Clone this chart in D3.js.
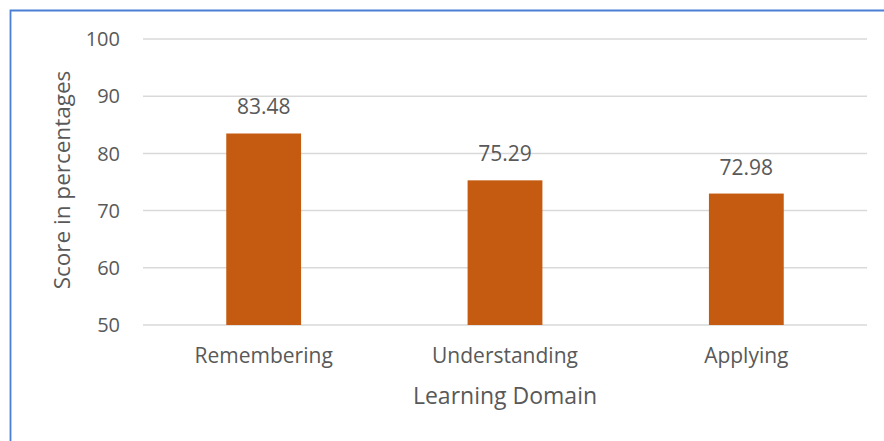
<!DOCTYPE html>
<html>
<head>
<meta charset="utf-8">
<script src="https://cdn.jsdelivr.net/npm/d3@7"></script>
<style>
  body { margin: 0; background: #fff; }
  text { font-family: "Open Sans", sans-serif; fill: #595959; }
</style>
</head>
<body>
<div id="chart"></div>
<script>
var categories = ['Remembering', 'Understanding', 'Applying'];
var scores = [83.48, 75.29, 72.98];
var yTicks = [50, 60, 70, 80, 90, 100];

var width = 884;
var height = 441;
var margin = { left: 143, right: 17, top: 39, bottom: 116 };

var svg = d3.select('#chart')
    .append('svg')
    .attr('width', width)
    .attr('height', height);

// frame
svg.append('path')
    .attr('d', 'M10.5,' + (height + 5) + 'V10.5H' + (width + 5))
    .attr('fill', 'none')
    .attr('stroke', '#4a7fd6')
    .attr('stroke-width', 1.8);

var x = d3.scaleBand()
    .domain(categories)
    .range([margin.left, width - margin.right])
    .paddingInner(0.69)
    .paddingOuter(0.345);

var y = d3.scaleLinear()
    .domain([50, 100])
    .range([height - margin.bottom, margin.top]);

// gridlines
svg.append('g')
    .selectAll('line')
    .data(yTicks)
    .enter()
    .append('line')
    .attr('x1', margin.left)
    .attr('x2', width - margin.right)
    .attr('y1', function(d) { return y(d); })
    .attr('y2', function(d) { return y(d); })
    .attr('stroke', '#d9d9d9')
    .attr('stroke-width', 1.5);

// y tick labels
svg.append('g')
    .selectAll('text')
    .data(yTicks)
    .enter()
    .append('text')
    .attr('x', 120)
    .attr('y', function(d) { return y(d); })
    .attr('dy', '0.36em')
    .attr('text-anchor', 'end')
    .style('font-size', '20px')
    .text(function(d) { return d; });

// bars
svg.append('g')
    .selectAll('rect')
    .data(scores)
    .enter()
    .append('rect')
    .attr('x', function(d, i) { return x(categories[i]); })
    .attr('width', x.bandwidth())
    .attr('y', function(d) { return y(d); })
    .attr('height', function(d) { return y(50) - y(d); })
    .attr('fill', '#c55a11');

// value labels
svg.append('g')
    .selectAll('text')
    .data(scores)
    .enter()
    .append('text')
    .attr('x', function(d, i) { return x(categories[i]) + x.bandwidth() / 2; })
    .attr('y', function(d) { return y(d) - 19; })
    .attr('text-anchor', 'middle')
    .style('font-size', '21px')
    .text(function(d) { return d.toFixed(2); });

// category labels
svg.append('g')
    .selectAll('text')
    .data(categories)
    .enter()
    .append('text')
    .attr('x', function(d) { return x(d) + x.bandwidth() / 2; })
    .attr('y', 363)
    .attr('text-anchor', 'middle')
    .style('font-size', '21px')
    .text(function(d) { return d; });

// axis titles
svg.append('text')
    .attr('x', (margin.left + width - margin.right) / 2)
    .attr('y', 404)
    .attr('text-anchor', 'middle')
    .style('font-size', '23px')
    .text('Learning Domain');

svg.append('text')
    .attr('transform', 'translate(70,' + ((y(50) + y(100)) / 2 - 2) + ') rotate(-90)')
    .attr('text-anchor', 'middle')
    .style('font-size', '22.5px')
    .text('Score in percentages');
</script>
</body>
</html>
